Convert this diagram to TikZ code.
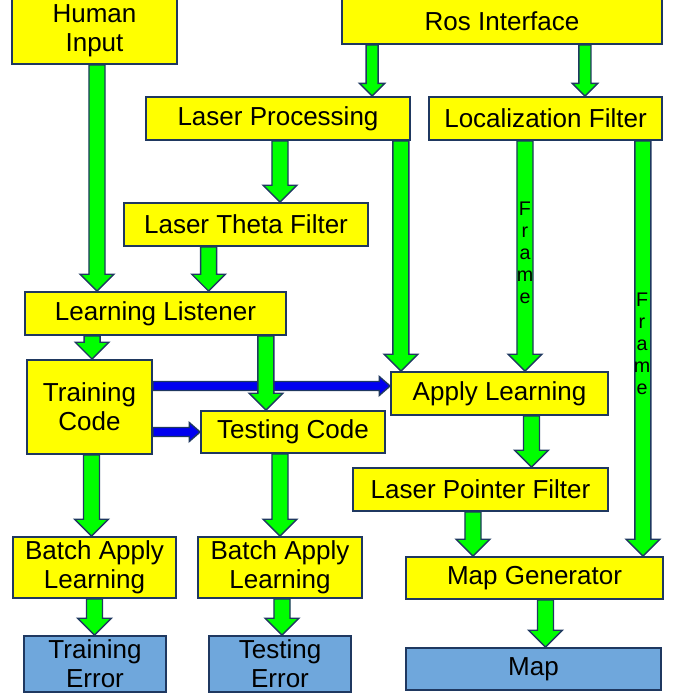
\documentclass[tikz,border=0pt]{standalone}
\usepackage{fontspec}
\setmainfont{Liberation Sans}
\usetikzlibrary{calc}

\definecolor{boxyellow}{RGB}{255,255,0}
\definecolor{boxblue}{RGB}{111,167,220}
\definecolor{edgecol}{RGB}{31,56,96}
\definecolor{arrowgreen}{RGB}{0,255,0}
\definecolor{arrowblue}{RGB}{0,0,240}

\newdimen\pxu \pxu=0.025cm

\tikzset{
	box/.style 2 args={draw=edgecol, line width=1.3pt, fill=boxyellow, inner sep=0pt, align=center,
		minimum width=#1\pxu, minimum height=#2\pxu, font=\fontsize{18.5}{20.6}\selectfont},
	outbox/.style 2 args={box={#1}{#2}, fill=boxblue},
	flow/.style={draw=edgecol, line width=1pt, line join=miter, fill=arrowgreen},
	framelbl/.style={inner sep=0pt, align=center, font=\fontsize{14}{15.6}\selectfont}
}

% block arrow down: x taken from #2, tip at the height of #3
\newcommand{\flowdown}[3][5.7pt]{%
	\filldraw[flow] let \p1=(#2), \p2=(#3) in
		(\x1-#1,\y1) -- (\x1-#1,\y2+2.1*#1) -- (\x1-2.1*#1,\y2+2.1*#1) -- (\x1,\y2)
		-- (\x1+2.1*#1,\y2+2.1*#1) -- (\x1+#1,\y2+2.1*#1) -- (\x1+#1,\y1) -- cycle;}
% block arrow right: y taken from #2, tip at the x of #3
\newcommand{\flowright}[3][3.2pt]{%
	\filldraw[flow, fill=arrowblue] let \p1=(#2), \p2=(#3) in
		(\x1,\y1+#1) -- (\x2-2.4*#1,\y1+#1) -- (\x2-2.4*#1,\y1+2.1*#1) -- (\x2,\y1)
		-- (\x2-2.4*#1,\y1-2.1*#1) -- (\x2-2.4*#1,\y1-#1) -- (\x1,\y1-#1) -- cycle;}

\begin{document}
\begin{tikzpicture}[x=0.025cm, y=-0.025cm]
	\useasboundingbox (0,0) rectangle (678,694);

	% inputs
	\node[box={165}{66}] (hum) at (94.5,31) {Human\\Input};
	\node[box={320}{46}] (ros) at (502,21) {Ros Interface};

	% processing
	\node[box={264}{43}] (lp) at (278,118.5) {Laser Processing};
	\node[box={233}{43}] (loc) at (545.5,118.5) {Localization Filter};
	\node[box={244}{43}] (ltf) at (246,224.5) {Laser Theta Filter};
	\node[box={261}{43}] (lis) at (155.5,313.5) {Learning Listener};
	\node[box={125}{94}] (trc) at (89.5,407) {Training\\Code};
	\node[box={184}{42}] (tsc) at (293,432) {Testing Code};
	\node[box={217}{43}] (apl) at (499.5,393.5) {Apply Learning};
	\node[box={255}{43}] (lpf) at (480.5,489.5) {Laser Pointer Filter};
	\node[box={257}{42}] (mpg) at (534.5,578) {Map Generator};
	\node[box={163}{61}] (bal1) at (94.5,567.5) {Batch Apply\\Learning};
	\node[box={164}{61}] (bal2) at (280,567.5) {Batch Apply\\Learning};

	% outputs
	\node[outbox={142}{56}] (tre) at (95,664) {Training\\Error};
	\node[outbox={142}{56}] (tse) at (280,664) {Testing\\Error};
	\node[outbox={255}{42}] (map) at (533.5,669) {Map};

	% learned model
	\flowright{$(trc.east)+(0,-21)$}{apl.west}
	\flowright{trc.east |- tsc.west}{tsc.west}

	% data flow
	\flowdown{$(hum.south)+(2.5,0)$}{lis.north}
	\flowdown[4.3pt]{$(ros.south west)+(31,0)$}{lp.north}
	\flowdown[4.3pt]{$(ros.south east)+(-78,0)$}{loc.north}
	\flowdown{$(lp.south)+(2,0)$}{ltf.north}
	\flowdown{$(lp.south east)+(-10,0)$}{apl.north}
	\flowdown{$(loc.south)+(-20.5,0)$}{apl.north}
	\flowdown{$(loc.south east)+(-20,0)$}{mpg.north}
	\flowdown{$(ltf.south west)+(85.5,0)$}{lis.north}
	\flowdown{$(lis.south west)+(68,0)$}{trc.north}
	\flowdown{$(lis.south east)+(-21,0)$}{tsc.north}
	\flowdown{$(trc.south)+(2,0)$}{bal1.north}
	\flowdown{bal2.north |- tsc.south}{bal2.north}
	\flowdown{bal1.south}{tre.north}
	\flowdown{$(bal2.south)+(2,0)$}{tse.north}
	\flowdown{$(apl.south)+(32,0)$}{lpf.north}
	\flowdown{$(lpf.south)+(-7.5,0)$}{mpg.north}
	\flowdown{$(mpg.south)+(11,0)$}{map.north}

	\node[framelbl] (frA) at (525,253) {F\\r\\a\\m\\e};
	\node[framelbl] (frB) at (642,344) {F\\r\\a\\m\\e};
\end{tikzpicture}
\end{document}
